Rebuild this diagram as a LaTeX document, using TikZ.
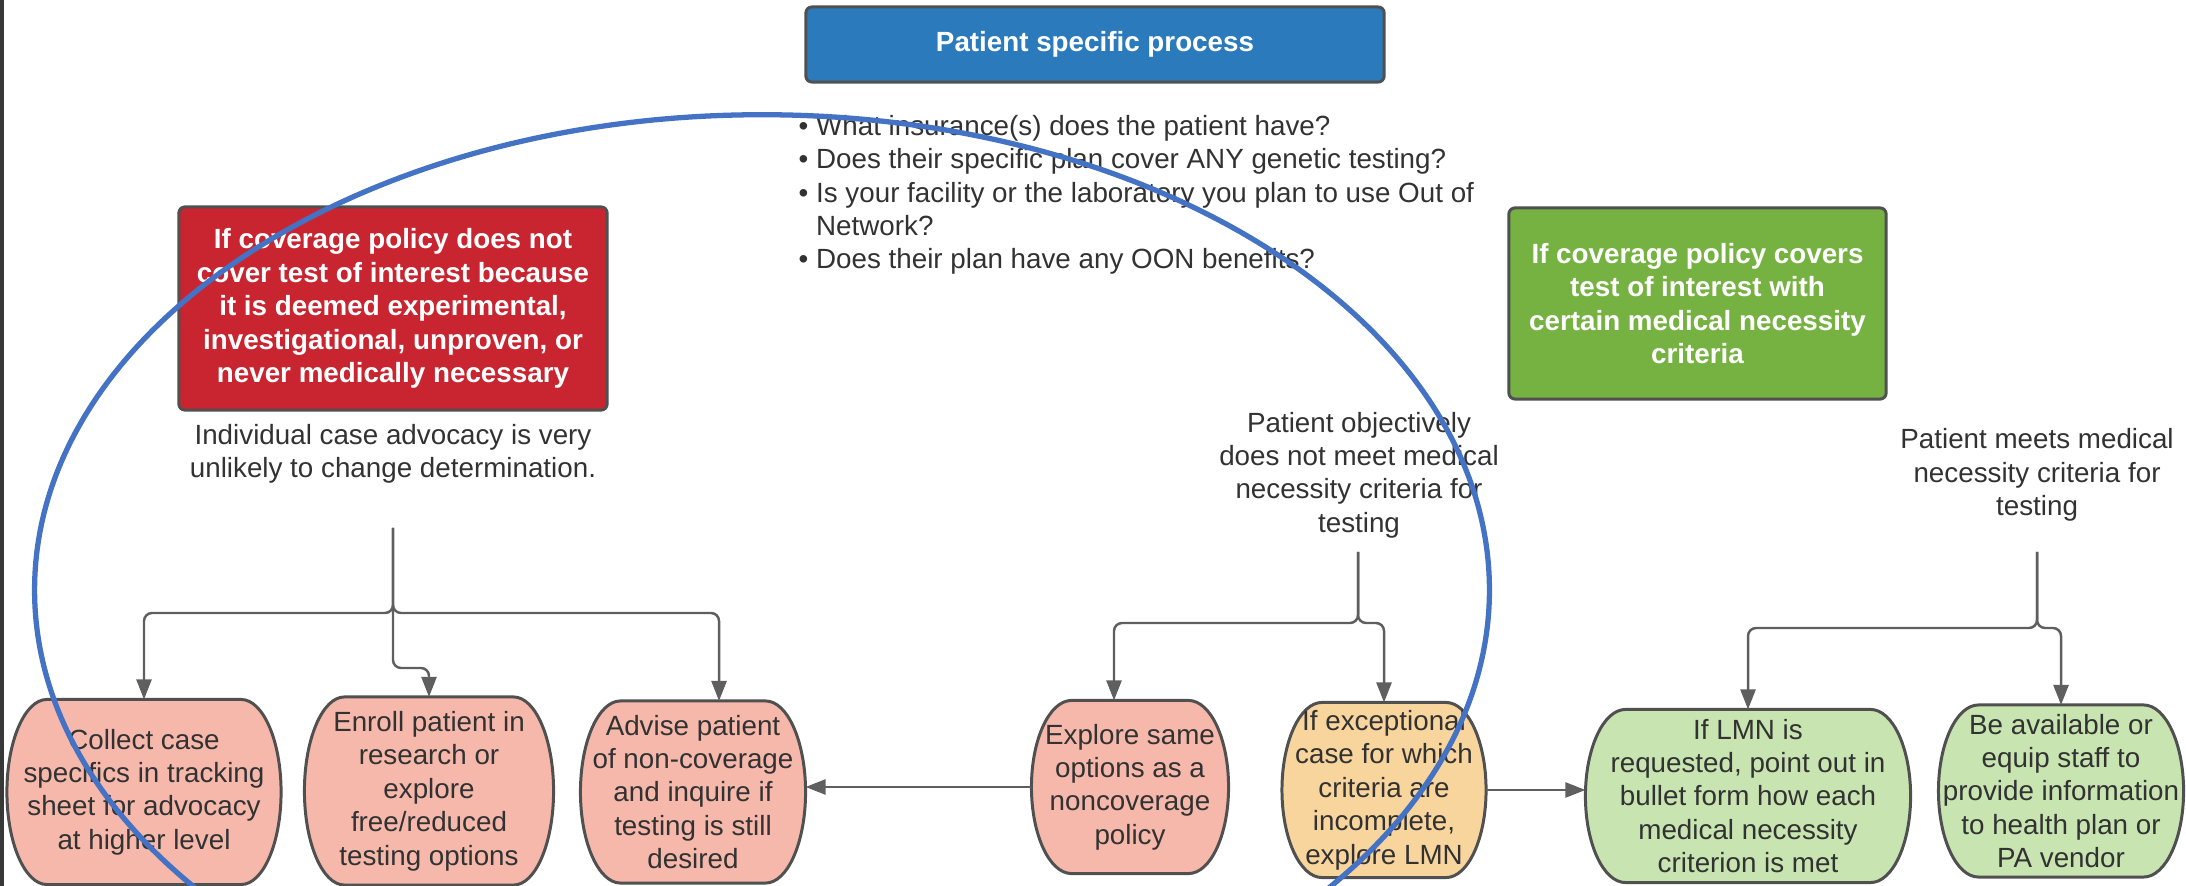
\documentclass[tikz,border=0pt]{standalone}
\usepackage{fontspec}
\setmainfont{Liberation Sans}
\usetikzlibrary{arrows.meta,backgrounds,calc}
\definecolor{kopfblau}{RGB}{42,122,188}
\definecolor{rotton}{RGB}{200,37,48}
\definecolor{gruenton}{RGB}{118,178,66}
\definecolor{rosa}{RGB}{245,184,171}
\definecolor{gelbton}{RGB}{249,213,158}
\definecolor{hellgruen}{RGB}{199,228,177}
\definecolor{rand}{RGB}{80,80,80}
\definecolor{linie}{RGB}{95,95,95}
\definecolor{schrift}{RGB}{50,50,50}
\definecolor{ringblau}{RGB}{68,114,196}
\tikzset{
  kasten/.style={draw=rand, line width=0.85pt, rounded corners=0.06cm, text=white,
    font=\fontsize{7.9}{9.5}\selectfont\bfseries, align=center, inner sep=0pt},
  schritt/.style={text=schrift, font=\fontsize{7.9}{9.5}\selectfont, align=center,
    inner sep=0pt, outer sep=0pt},
  umriss/.style={draw=rand, line width=0.85pt},
  notiz/.style={text=schrift, font=\fontsize{7.9}{9.5}\selectfont, align=center, inner sep=0pt},
  pfeil/.style={draw=linie, line width=0.7pt, rounded corners=0.08cm,
    -{Triangle[width=0.15cm,length=0.2cm]}},
  ringlinie/.style={draw=ringblau, line width=1.5pt}
}
\begin{document}
\begin{tikzpicture}[x=0.01cm, y=-0.01cm]
            \useasboundingbox (0,0) rectangle (2186,886);
            \clip (0,0) rectangle (2186,886);
            % Rand
            \fill[black!78] (0,0) rectangle (4,886);
            % Kopf
            \node[kasten, fill=kopfblau, minimum width=5.78cm, minimum height=0.75cm] (kopf) at (1095,44.5) {Patient specific process};
            \node[notiz, anchor=west, align=left] (fragen) at (798,195) {\textbullet\ What insurance(s) does the patient have?\\
              \textbullet\ Does their specific plan cover ANY genetic testing?\\
              \textbullet\ Is your facility or the laboratory you plan to use Out of\\
              \hphantom{\textbullet\ }Network?\\
              \textbullet\ Does their plan have any OON benefits?};
            % Policen
            \node[kasten, fill=rotton, minimum width=4.28cm, minimum height=2.03cm] (nein) at (393,308.5) {If coverage policy does not\\cover test of interest because\\it is deemed experimental,\\investigational, unproven, or\\never medically necessary};
            \node[kasten, fill=gruenton, minimum width=3.77cm, minimum height=1.91cm] (ja) at (1697.5,303.5) {If coverage policy covers\\test of interest with\\certain medical necessity\\criteria};
            % Notizen
            \node[notiz] (neinnotiz) at (393,454) {Individual case advocacy is very\\unlikely to change determination.};
            \node[notiz] (mittenotiz) at (1359,475) {Patient objectively\\does not meet medical\\necessity criteria for\\testing};
            \node[notiz] (janotiz) at (2037,475) {Patient meets medical\\necessity criteria for\\testing};
            % Schritte
            \node[schritt, minimum width=2.74cm, minimum height=1.85cm] (sammeln) at (144,792) {Collect case\\specifics in tracking\\sheet for advocacy\\at higher level};
            \node[schritt, minimum width=2.49cm, minimum height=1.88cm] (studie) at (429,791) {Enroll patient in\\research or\\explore\\free/reduced\\testing options};
            \node[schritt, minimum width=2.25cm, minimum height=1.82cm] (beraten) at (693,792) {Advise patient\\of non-coverage\\and inquire if\\testing is still\\desired};
            \node[schritt, minimum width=1.97cm, minimum height=1.73cm] (pruefen) at (1130,787) {Explore same\\options as a\\noncoverage\\policy};
            \node[schritt, minimum width=2.04cm, minimum height=1.75cm] (ausnahme) at (1384,790) {If exceptional\\case for which\\criteria are\\incomplete,\\explore LMN};
            \node[schritt, minimum width=3.25cm, minimum height=1.73cm] (lmn) at (1748,796) {If LMN is\\requested, point out in\\bullet form how each\\medical necessity\\criterion is met};
            \node[schritt, minimum width=2.45cm, minimum height=1.72cm] (info) at (2061,791) {Be available or\\equip staff to\\provide information\\to health plan or\\PA vendor};
            % Tonnenform hinter den Schritten
            \begin{scope}[on background layer]
              \foreach \n/\f in {sammeln/rosa, studie/rosa, beraten/rosa, pruefen/rosa, ausnahme/gelbton, lmn/hellgruen, info/hellgruen}
                \draw[umriss, fill=\f] ([xshift=-0.4cm]\n.north east)
                  .. controls ([xshift=-0.18cm]\n.north east) and ($(\n.east)!0.552!(\n.north east)$) .. (\n.east)
                  .. controls ($(\n.east)!0.552!(\n.south east)$) and ([xshift=-0.18cm]\n.south east) .. ([xshift=-0.4cm]\n.south east)
                  -- ([xshift=0.4cm]\n.south west)
                  .. controls ([xshift=0.18cm]\n.south west) and ($(\n.west)!0.552!(\n.south west)$) .. (\n.west)
                  .. controls ($(\n.west)!0.552!(\n.north west)$) and ([xshift=0.18cm]\n.north west) .. ([xshift=0.4cm]\n.north west)
                  -- cycle;
            \end{scope}
            % Verzweigung links
            \coordinate (lstart) at (393,528);
            \coordinate (lknoten) at (393,613);
            \draw[pfeil] (lstart) -- (lknoten) -| (sammeln.north);
            \draw[pfeil] (lstart) -- (lknoten) -- ++(0,55) -| (studie.north);
            \draw[pfeil] (lstart) -- (lknoten) -| ([xshift=0.26cm]beraten.north);
            % Verzweigung Mitte
            \coordinate (mstart) at (1358,552);
            \coordinate (mknoten) at (1358,623);
            \draw[pfeil] (mstart) -- (mknoten) -| ([xshift=-0.16cm]pruefen.north);
            \draw[pfeil] (mstart) -- (mknoten) -| (ausnahme.north);
            % Verzweigung rechts
            \coordinate (rstart) at (2037,552);
            \coordinate (rknoten) at (2037,628);
            \draw[pfeil] (rstart) -- (rknoten) -| (lmn.north);
            \draw[pfeil] (rstart) -- (rknoten) -| (info.north);
            % Querpfeile
            \draw[pfeil] (pruefen.west) -- (pruefen.west -| beraten.east);
            \draw[pfeil] (ausnahme.east) -- (ausnahme.east -| lmn.west);
            % Markierung
            \draw[ringlinie] (762,590) ellipse [x radius=7.27cm, y radius=4.75cm];
\end{tikzpicture}
\end{document}
